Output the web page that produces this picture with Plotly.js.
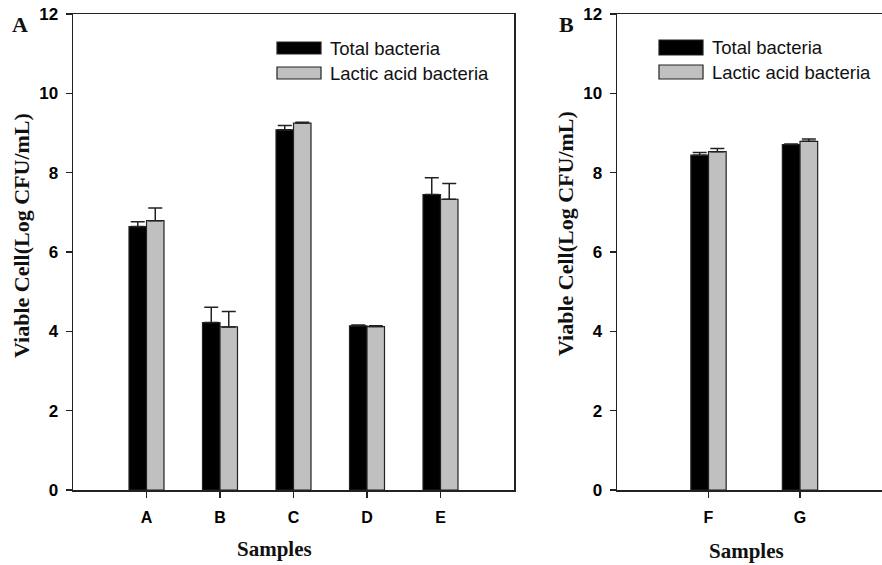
<!DOCTYPE html>
<html>
<head>
<meta charset="utf-8">
<script src="https://cdn.plot.ly/plotly-3.0.1.min.js"></script>
<style>html,body{margin:0;padding:0;background:#fff;}#chart{width:882px;height:565px;}</style>
</head>
<body>
<div id="chart"></div>
<script>
// ---- data ----
var seriesNames = ['Total bacteria', 'Lactic acid bacteria'];
var samplesA = ['A', 'B', 'C', 'D', 'E'];
var totalA = [6.64, 4.22, 9.08, 4.14, 7.45];
var totalAErr = [0.12, 0.39, 0.11, 0.02, 0.42];
var lacticA = [6.79, 4.11, 9.25, 4.12, 7.33];
var lacticAErr = [0.32, 0.39, 0.02, 0.02, 0.40];
var samplesB = ['F', 'G'];
var totalB = [8.44, 8.71];
var totalBErr = [0.07, 0.01];
var lacticB = [8.53, 8.79];
var lacticBErr = [0.08, 0.06];
var yTicks = [0, 2, 4, 6, 8, 10, 12];

// ---- helpers ----
var W = 882, H = 565;
function px(x) { return x / W; }
function py(y) { return 1 - y / H; }
function zeros(a) { return a.map(function () { return 0; }); }
function bold(a) { return a.map(function (v) { return '<b>' + v + '</b>'; }); }

var black = '#000000', gray = '#c0c0c0', lineCol = '#222222';
var serif = 'Liberation Serif, Times New Roman, serif';
var sans = 'Liberation Sans, Arial, sans-serif';

function barTrace(x, y, err, color, offset, width, xa, ya, name) {
  return {
    type: 'bar', x: x, y: y, name: name, xaxis: xa, yaxis: ya,
    offset: offset, width: width,
    marker: { color: color, line: { color: lineCol, width: 1.2 } },
    error_y: { type: 'data', symmetric: false, array: err, arrayminus: zeros(err),
               color: lineCol, thickness: 1.5, width: 7 },
    showlegend: false
  };
}

var wA = 0.238, wB = 0.193;
var data = [
  barTrace(samplesA, totalA, totalAErr, black, -wA, wA, 'x', 'y', seriesNames[0]),
  barTrace(samplesA, lacticA, lacticAErr, gray, 0, wA, 'x', 'y', seriesNames[1]),
  barTrace(samplesB, totalB, totalBErr, black, -wB, wB, 'x2', 'y2', seriesNames[0]),
  barTrace(samplesB, lacticB, lacticBErr, gray, 0, wB, 'x2', 'y2', seriesNames[1])
];

var tickFontX = { family: sans, size: 16, color: '#000', weight: 'bold' };
var tickFontY = { family: sans, size: 17, color: '#000', weight: 'bold' };

function xAxis(domain, range, anchor, cats) {
  return {
    domain: domain, range: range, anchor: anchor, type: 'category',
    categoryorder: 'array', categoryarray: cats,
    tickmode: 'array', tickvals: cats, ticktext: bold(cats),
    showline: true, linecolor: lineCol, linewidth: 1.5, mirror: true,
    ticks: 'outside', ticklen: 6, tickwidth: 1.2, tickcolor: lineCol,
    tickfont: tickFontX, ticklabelstandoff: 6,
    showgrid: false, zeroline: false, fixedrange: true
  };
}
function yAxis(anchor, mirror) {
  return {
    domain: [py(490), py(14)], range: [0, 12], anchor: anchor,
    tickmode: 'array', tickvals: yTicks, ticktext: bold(yTicks.map(String)),
    showline: true, linecolor: lineCol, linewidth: 1.5, mirror: mirror,
    ticks: 'outside', ticklen: 6, tickwidth: 1.2, tickcolor: lineCol,
    tickfont: tickFontY, ticklabelstandoff: 4,
    showgrid: false, zeroline: false, fixedrange: true
  };
}

var shapes = [];
var annotations = [];
function legendAt(x0, x1, rows, textX) {
  var colors = [black, gray];
  rows.forEach(function (r, i) {
    shapes.push({ type: 'rect', xref: 'paper', yref: 'paper',
      x0: px(x0), x1: px(x1), y0: py(r[1]), y1: py(r[0]),
      fillcolor: colors[i], line: { color: lineCol, width: 1.2 } });
    annotations.push({ xref: 'paper', yref: 'paper', x: px(textX), y: py((r[0] + r[1]) / 2),
      xanchor: 'left', yanchor: 'middle', showarrow: false, text: seriesNames[i],
      font: { family: sans, size: 18.5, color: '#111' } });
  });
}
legendAt(277, 321, [[42, 54], [67, 79]], 328);
legendAt(659, 703, [[40, 55], [65, 79]], 710);

function label(text, x, y, size, angle) {
  annotations.push({ xref: 'paper', yref: 'paper', x: px(x), y: py(y),
    xanchor: 'center', yanchor: 'middle', showarrow: false, text: '<b>' + text + '</b>',
    textangle: angle || 0,
    font: { family: serif, size: size, color: '#111', weight: 'bold' } });
}
label('A', 20, 25, 22);
label('B', 566, 24, 22);
label('Samples', 274, 549, 21);
label('Samples', 746, 551, 21);
label('Viable Cell(Log CFU/mL)', 22, 236, 22, -90);
label('Viable Cell(Log CFU/mL)', 565, 234, 22, -90);

var layout = {
  width: W, height: H,
  margin: { l: 0, r: 0, t: 0, b: 0, pad: 0 },
  paper_bgcolor: '#fff', plot_bgcolor: '#fff',
  barmode: 'overlay',
  xaxis: xAxis([px(73), px(514)], [-1, 5], 'y', samplesA),
  yaxis: yAxis('x', true),
  xaxis2: xAxis([px(617), 1], [-1, 1.896], 'y2', samplesB),
  yaxis2: yAxis('x2', false),
  shapes: shapes,
  annotations: annotations,
  showlegend: false
};

Plotly.newPlot('chart', data, layout, { staticPlot: true, displayModeBar: false });
</script>
</body>
</html>
